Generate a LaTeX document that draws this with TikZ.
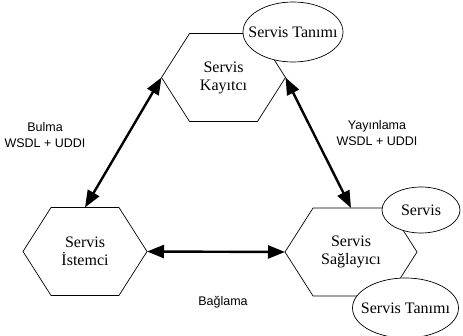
\documentclass[tikz,border=0pt]{standalone}
\usepackage{fontspec}
\setmainfont{Liberation Serif}
\newfontfamily\lsans{Liberation Sans}
\usetikzlibrary{arrows.meta,shapes.symbols,shapes.geometric}
\begin{document}
\begin{tikzpicture}[x=1pt,y=-1pt,
  hexbox/.style={signal, signal to=east and west, signal pointer angle=115, draw, line width=0.7pt,
    minimum width=124pt, minimum height=88pt, inner sep=0pt, outer sep=0pt, align=center,
    font=\fontsize{16}{18}\selectfont},
  ovalbox/.style={ellipse, draw, fill=white, line width=0.7pt, inner sep=0pt, outer sep=0pt},
  ovaltxt/.style={font=\fontsize{16}{18}\selectfont, inner sep=0pt},
  link/.style={line width=2.4pt, {Triangle[length=17pt,width=13pt]}-{Triangle[length=17pt,width=13pt]}},
  lbl/.style={align=center, inner sep=0pt, font=\lsans\fontsize{12.5}{16}\selectfont}]
\useasboundingbox (0,0) rectangle (463,336);
\node[hexbox] (reg) at (223.5,77.5) {Servis\\Kayıtcı};
\node[hexbox] (cli) at (85,251.5) {Servis\\İstemci};
\node[hexbox, minimum width=132pt] (prov) at (351,252) {Servis\\Sağlayıcı};
\node[ovalbox, minimum width=100pt, minimum height=60pt, label={[ovaltxt]center:Servis Tanımı}] (regdesc) at (293,32) {};
\node[ovalbox, minimum width=78pt, minimum height=46pt, label={[ovaltxt]center:Servis}] (svc) at (421,210) {};
\node[ovalbox, minimum width=106pt, minimum height=60pt, label={[ovaltxt]center:Servis Tanımı}] (provdesc) at (405.5,308) {};
\draw[link] (reg.west) -- (cli.north);
\draw[link] (reg.east) -- (prov.north);
\draw[link] (cli.east) -- (prov.west);
\node[lbl] (l1) at (45,135.5) {Bulma\\WSDL + UDDI};
\node[lbl] (l2) at (377,133.5) {Yayınlama\\WSDL + UDDI};
\node[lbl] (l3) at (223,302.5) {Bağlama};
\end{tikzpicture}
\end{document}
